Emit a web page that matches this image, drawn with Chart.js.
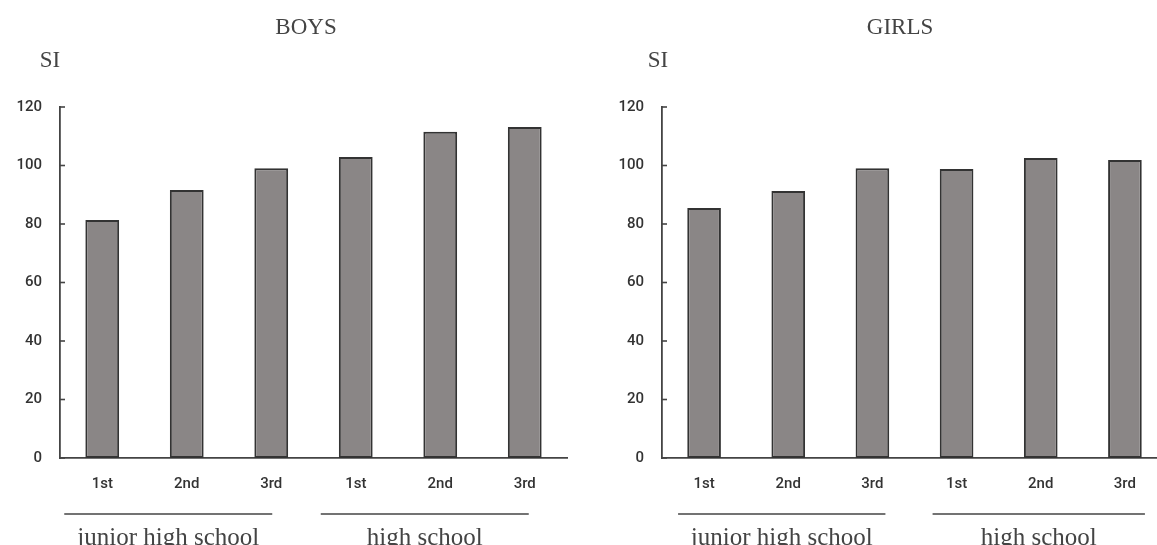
<!DOCTYPE html>
<html>
<head>
<meta charset="utf-8">
<script src="https://cdn.jsdelivr.net/npm/chart.js@4"></script>
<style>
html, body { margin:0; padding:0; background:#fff; overflow:hidden; width:1157px; height:545px; }
#boys { position:absolute; left:0; top:0; }
#girls { position:absolute; left:580px; top:0; }
</style>
</head>
<body>
<canvas id="boys" width="580" height="545"></canvas>
<canvas id="girls" width="600" height="545"></canvas>
<script>
// data
const grades = ['1st', '2nd', '3rd', '1st', '2nd', '3rd']
const groups = ['junior high school', 'high school']
const groupFirst = [0, 3]
const groupLast = [2, 5]
const boysSI = [81.4, 91.6, 99.1, 102.9, 111.5, 113.2]
const girlsSI = [85.5, 91.3, 99.1, 98.8, 102.6, 101.9]
const yTicks = [0, 20, 40, 60, 80, 100, 120]

const ink = '#333'
const tickFont = { family: 'Roboto', size: 15, weight: '500' }
const serif = '"Liberation Serif", "DejaVu Serif", serif'

// titles, SI label, inward ticks, group lines and labels
const extras = {
  id: 'extras',
  afterDraw(chart, args, opts) {
    const ctx = chart.ctx
    const xs = chart.scales.x, ys = chart.scales.y
    ctx.save()
    ctx.strokeStyle = '#444'
    ctx.lineWidth = 1.6
    yTicks.forEach(v => {
      const py = ys.getPixelForValue(v)
      ctx.beginPath()
      ctx.moveTo(xs.left, py)
      ctx.lineTo(xs.left + 5, py)
      ctx.stroke()
    })
    ctx.fillStyle = '#444'
    ctx.textAlign = 'center'
    ctx.textBaseline = 'middle'
    ctx.font = '23px ' + serif
    ctx.fillText(opts.title, opts.titleX, 28)
    ctx.fillText('SI', opts.siX, 61)
    ctx.font = '25px ' + serif
    ctx.textBaseline = 'alphabetic'
    groups.forEach((g, i) => {
      const a = xs.getPixelForValue(groupFirst[i]) + opts.lineOff[i][0]
      const b = xs.getPixelForValue(groupLast[i]) + opts.lineOff[i][1]
      ctx.beginPath()
      ctx.moveTo(a, 514)
      ctx.lineTo(b, 514)
      ctx.stroke()
      ctx.fillText(g, (a + b) / 2, 545)
    })
    ctx.restore()
  }
}

function makeChart(id, values, axisWidth, extraOpts) {
  return new Chart(document.getElementById(id), {
    type: 'bar',
    data: {
      labels: grades,
      datasets: [{
        data: values,
        backgroundColor: '#8a8686',
        borderColor: '#333',
        borderWidth: 2,
        borderSkipped: false,
        categoryPercentage: 1,
        barPercentage: 0.4
      }]
    },
    options: {
      responsive: false,
      animation: false,
      layout: { padding: { top: 107, right: 13, left: 0, bottom: 0 } },
      plugins: {
        legend: { display: false },
        tooltip: { enabled: false },
        extras: extraOpts
      },
      scales: {
        x: {
          grid: { display: false, drawTicks: false },
          border: { color: '#444', width: 1.8 },
          ticks: { color: ink, font: tickFont, padding: 17, maxRotation: 0 },
          afterFit: s => { s.height = 87 }
        },
        y: {
          min: 0,
          max: 120,
          grid: { display: false, drawTicks: false },
          border: { color: '#444', width: 1.8 },
          ticks: { stepSize: 20, color: ink, font: tickFont, padding: 18 },
          afterFit: s => { s.width = axisWidth }
        }
      }
    },
    plugins: [extras]
  })
}

makeChart('boys', boysSI, 60, {
  title: 'BOYS', titleX: 306, siX: 50,
  lineOff: [[-38, 1], [-35, 4]]
})
makeChart('girls', girlsSI, 82, {
  title: 'GIRLS', titleX: 320, siX: 78,
  lineOff: [[-26, 13], [-24, 20]]
})
</script>
</body>
</html>
